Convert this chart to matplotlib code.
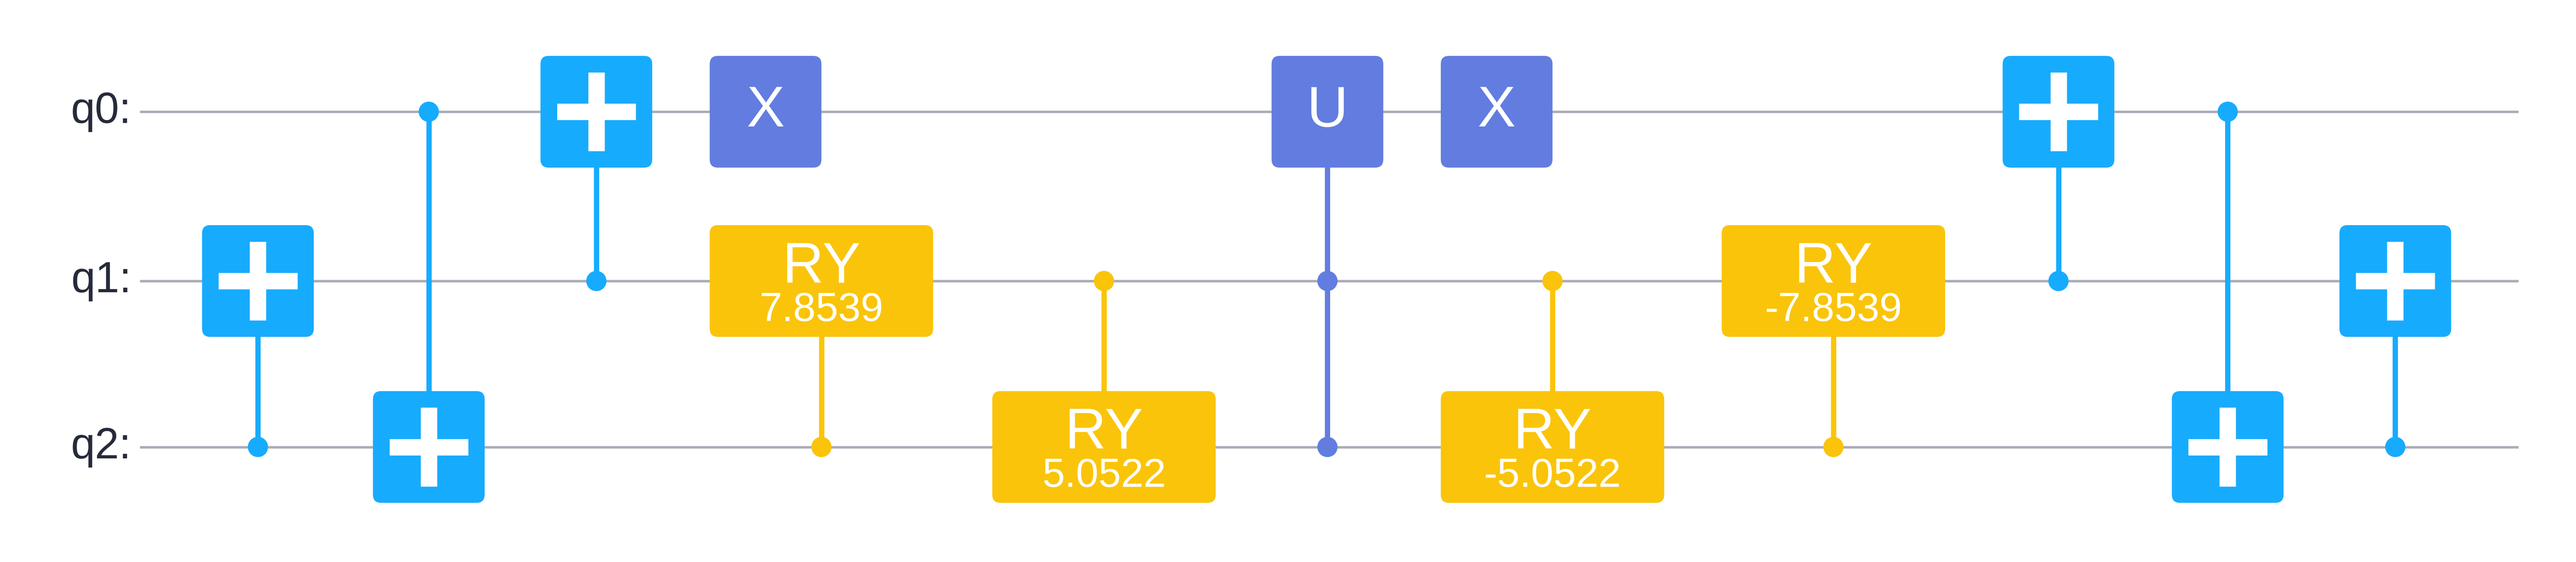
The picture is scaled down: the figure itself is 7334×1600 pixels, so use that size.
import matplotlib
matplotlib.use("Agg")
import matplotlib.pyplot as plt
from matplotlib.patches import FancyBboxPatch, Ellipse

# circuit content
qubits = ["q0:", "q1:", "q2:"]
gate_names = ["cx", "cx", "cx", "x", "ry", "ry", "u", "x", "ry", "ry", "cx", "cx", "cx"]
gate_targets = [1, 2, 0, 0, 1, 2, 0, 0, 2, 1, 0, 2, 1]
gate_controls = [[2], [0], [1], [], [2], [1], [1, 2], [], [1], [2], [1], [0], [2]]
gate_params = ["", "", "", "", "7.8539", "5.0522", "", "", "-5.0522", "-7.8539", "", "", ""]

# layout (display units of a 1568 x 342 canvas)
gate_x = [157, 261, 363, 466, 500, 672, 808, 911, 945, 1116, 1253, 1356, 1458]
WIRE_Y = [68, 171, 272]
BOX_H = 68
S = 7334 / 1568
COLORS = {"cx": "#17abfe", "x": "#627ddf", "u": "#627ddf", "ry": "#fac40a"}

fig = plt.figure(figsize=(73.34, 16), dpi=100)
ax = fig.add_axes([0, 0, 1, 1])
ax.set_xlim(0, 1568)
ax.set_ylim(342, 0)
ax.axis("off")

for y, name in zip(WIRE_Y, qubits):
    ax.plot([85, 1533], [y, y], color="#abadb6", lw=1.5 * S * 0.72, zorder=1,
            solid_capstyle="butt")
    ax.text(80, y, name, ha="right", va="center", fontsize=89,
            family="Liberation Sans", color="#262a3a")

for name, tgt, ctrls, par, x in zip(gate_names, gate_targets, gate_controls,
                                    gate_params, gate_x):
    col = COLORS[name]
    w = 136 if name == "ry" else 68
    ty = WIRE_Y[tgt]
    if ctrls:
        ys = [WIRE_Y[c] for c in ctrls] + [ty]
        ax.plot([x, x], [min(ys), max(ys)], color=col, lw=3.2 * S * 0.72,
                zorder=2, solid_capstyle="butt")
        for c in ctrls:
            ax.add_patch(Ellipse((x, WIRE_Y[c]), 12, 12, color=col, zorder=3))
    ax.add_patch(FancyBboxPatch((x - w / 2 + 5, ty - BOX_H / 2 + 5), w - 10, BOX_H - 10,
                                boxstyle="round,pad=5", color=col, zorder=4, lw=0))
    if name == "cx":
        ax.plot([x - 24, x + 24], [ty, ty], color="white", lw=10 * S * 0.72,
                solid_capstyle="butt", zorder=5)
        ax.plot([x, x], [ty - 24, ty + 24], color="white", lw=10 * S * 0.72,
                solid_capstyle="butt", zorder=5)
    elif name == "ry":
        ax.text(x, ty - 8, "RY", ha="center", va="center", fontsize=117,
                family="Liberation Sans", color="white", zorder=5)
        ax.text(x, ty + 18, par, ha="center", va="center", fontsize=83,
                family="Liberation Sans", color="white", zorder=5)
    else:
        ax.text(x, ty, name.upper(), ha="center", va="center", fontsize=117,
                family="Liberation Sans", color="white", zorder=5)

fig.savefig("out.png", dpi=100, facecolor="white")
